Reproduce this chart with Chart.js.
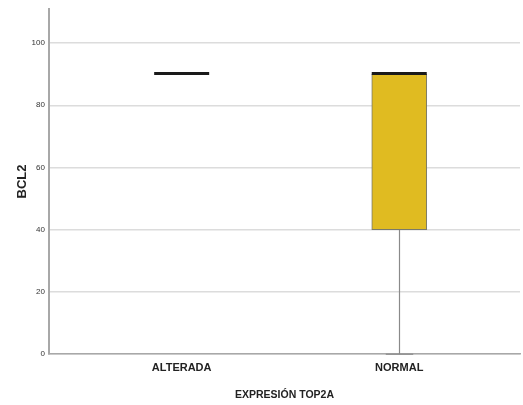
<!DOCTYPE html>
<html>
<head>
<meta charset="utf-8">
<script src="https://cdn.jsdelivr.net/npm/chart.js@4/dist/chart.umd.min.js"></script>
<style>
  html, body { margin: 0; padding: 0; background: #fff; }
  #wrap { width: 523px; height: 405px; }
</style>
</head>
<body>
<div id="wrap"><canvas id="c" width="523" height="405"></canvas></div>
<script>
// Box-plot summary of BCL2 by TOP2A expression group
const categories = ['ALTERADA', 'NORMAL'];
const minValues    = [90, 0];
const q1Values     = [90, 40];
const medianValues = [90, 90];
const q3Values     = [90, 90];
const maxValues    = [90, 90];
const yTicks = [0, 20, 40, 60, 80, 100];

const boxFill = '#E0BB21';
const boxEdge = '#7a7a6a';
const BOX_WIDTH = 55;

// Whiskers and caps under the boxes, medians on top
const boxPlotPlugin = {
  id: 'boxPlotParts',
  beforeDatasetsDraw(chart) {
    const { ctx, scales: { x, y } } = chart;
    ctx.save();
    ctx.strokeStyle = '#8a8a8a';
    ctx.lineWidth = 1.2;
    categories.forEach((c, i) => {
      const cx = Math.round(x.getPixelForValue(i)) + 0.5;
      const half = BOX_WIDTH / 4;
      const segs = [[minValues[i], q1Values[i]], [q3Values[i], maxValues[i]]];
      segs.forEach(([a, b]) => {
        if (a === b) return;
        ctx.beginPath();
        ctx.moveTo(cx, y.getPixelForValue(a));
        ctx.lineTo(cx, y.getPixelForValue(b));
        ctx.stroke();
      });
      [minValues[i], maxValues[i]].forEach((v, k) => {
        const ref = k === 0 ? q1Values[i] : q3Values[i];
        if (v === ref) return;
        ctx.beginPath();
        ctx.moveTo(cx - half, y.getPixelForValue(v));
        ctx.lineTo(cx + half, y.getPixelForValue(v));
        ctx.stroke();
      });
    });
    ctx.restore();
  },
  afterDatasetsDraw(chart) {
    const { ctx, scales: { x, y } } = chart;
    ctx.save();
    ctx.strokeStyle = '#1a1a1a';
    ctx.lineWidth = 3;
    categories.forEach((c, i) => {
      const cx = x.getPixelForValue(i);
      const py = Math.round(y.getPixelForValue(medianValues[i])) - 0.5;
      ctx.beginPath();
      ctx.moveTo(cx - BOX_WIDTH / 2, py);
      ctx.lineTo(cx + BOX_WIDTH / 2, py);
      ctx.stroke();
    });
    ctx.restore();
  }
};

const sans = "'Liberation Sans', Arial, sans-serif";

new Chart(document.getElementById('c'), {
  type: 'bar',
  data: {
    datasets: [{
      data: categories.map((c, i) => ({ x: i, y: [q1Values[i], q3Values[i]] })),
      backgroundColor: boxFill,
      borderColor: boxEdge,
      borderWidth: 1,
      borderSkipped: false,
      barThickness: BOX_WIDTH
    }]
  },
  options: {
    responsive: false,
    animation: false,
    layout: { padding: { top: 5, right: 3, left: 1, bottom: 4 } },
    plugins: { legend: { display: false }, tooltip: { enabled: false } },
    scales: {
      x: {
        type: 'linear',
        offset: false,
        min: -0.61,
        max: 1.555,
        afterBuildTicks(scale) { scale.ticks = categories.map((c, i) => ({ value: i })); },
        grid: { display: false, offset: false, drawTicks: false },
        border: { color: '#a8a8a8', width: 1.5 },
        ticks: {
          color: '#222',
          font: { family: sans, size: 11, weight: 'bold' },
          padding: 7,
          maxRotation: 0,
          callback: v => categories[v]
        },
        title: { display: true, text: 'EXPRESIÓN TOP2A', color: '#222', font: { family: sans, size: 10.5, weight: 'bold' }, padding: { top: 7, bottom: 0 } }
      },
      y: {
        min: 0,
        max: 111,
        afterBuildTicks(scale) { scale.ticks = yTicks.map(v => ({ value: v })); },
        grid: { color: '#dcdcdc', lineWidth: 1.5, drawTicks: false },
        border: { color: '#a8a8a8', width: 2 },
        ticks: { color: '#333', font: { family: sans, size: 8 }, padding: 4 },
        title: { display: true, text: 'BCL2', color: '#222', font: { family: sans, size: 13, weight: 'bold' }, padding: { top: 14, bottom: -3 } }
      }
    }
  },
  plugins: [boxPlotPlugin]
});
</script>
</body>
</html>
